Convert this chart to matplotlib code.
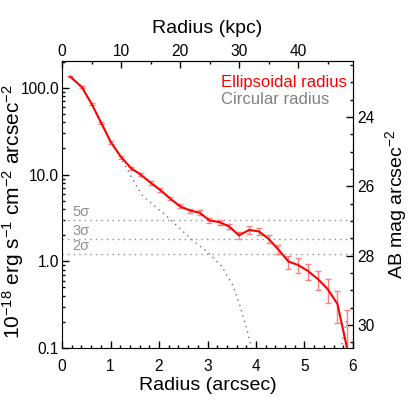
import numpy as np
import matplotlib
matplotlib.use("Agg")
import matplotlib.pyplot as plt
from matplotlib.ticker import FixedLocator, MultipleLocator, FuncFormatter, LogLocator, NullFormatter

plt.rcParams["font.family"] = ["Liberation Sans", "DejaVu Sans"]
plt.rcParams["mathtext.default"] = "regular"

# ellipsoidal radius profile (arcsec, 1e-18 erg/s/cm2/arcsec2)
ell_radius = [0.17, 0.41, 0.61, 0.81, 1.01, 1.22, 1.42, 1.62, 1.83, 2.03,
              2.23, 2.43, 2.64, 2.84, 3.04, 3.25, 3.45, 3.65, 3.86, 4.06,
              4.26, 4.46, 4.67, 4.87, 5.07, 5.28, 5.48, 5.68, 5.88]
ell_flux = [134.8, 101.9, 65.5, 39.3, 23.5, 15.9, 11.9, 10.0, 8.04, 6.61,
            5.29, 4.32, 3.85, 3.63, 2.96, 2.83, 2.51, 1.99, 2.30, 2.21,
            1.82, 1.37, 0.993, 0.906, 0.774, 0.621, 0.477, 0.321, 0.098]
ell_err = [2.7, 2.0, 1.6, 1.2, 0.7, 0.64, 0.48, 0.4, 0.36, 0.33,
           0.26, 0.22, 0.20, 0.24, 0.22, 0.18, 0.18, 0.175, 0.25, 0.18,
           0.20, 0.155, 0.173, 0.178, 0.168, 0.150, 0.143, 0.128, 0.177]

# circular radius profile
circ_radius = [0.17, 0.41, 0.61, 0.81, 1.01, 1.20, 1.44, 1.64, 1.85, 2.12,
               2.43, 2.71, 2.98, 3.29, 3.53, 3.67, 3.81, 3.88, 3.95, 5.67, 5.88]
circ_flux = [134.8, 101.0, 65.0, 39.0, 23.5, 16.2, 9.17, 5.89, 4.60, 3.47,
             2.39, 1.71, 1.31, 0.883, 0.520, 0.306, 0.165, 0.116, 0.08, 0.06, 0.22]

sigma = 0.6
sigma_levels = [5, 3, 2]
kpc_per_arcsec = 8.22
mag_zero = 28.16

fig = plt.figure(figsize=(4.15, 4.15), dpi=100)
ax = fig.add_axes([0.1494, 0.1614, 0.7012, 0.6916])
ax.set_yscale("log")
ax.set_xlim(0, 6)
ax.set_ylim(0.1, 204)

for n in sigma_levels:
    ax.plot([0, 6], [n * sigma, n * sigma], color="#909090", lw=1.0,
            linestyle=(0, (1, 3)))
    ax.text(0.22, n * sigma * 1.035, f"{n}σ", color="#909090", fontsize=10.5,
            va="bottom", ha="left")

ax.plot(circ_radius, circ_flux, color="#707070", lw=1.0, linestyle=(0, (1, 3)))
ax.errorbar(ell_radius, ell_flux, yerr=ell_err, fmt="none", ecolor="#ff8080",
            elinewidth=1.0, capsize=2.4, capthick=1.0)
ax.plot(ell_radius, ell_flux, color="red", lw=1.5)

ax.text(3.27, 115, "Ellipsoidal radius", color="red", fontsize=12, va="center")
ax.text(3.27, 74, "Circular radius", color="#808080", fontsize=12, va="center")

tick_kw = dict(direction="in", labelsize=11.2, width=1.0, color="black")
ax.xaxis.set_major_locator(MultipleLocator(1))
ax.xaxis.set_minor_locator(MultipleLocator(0.2))
ax.yaxis.set_major_locator(FixedLocator([0.1, 1, 10, 100]))
ax.yaxis.set_minor_locator(LogLocator(base=10, subs=np.arange(2, 10)))
ax.yaxis.set_minor_formatter(NullFormatter())
ax.yaxis.set_major_formatter(FuncFormatter(lambda v, p: {0.1: "0.1", 1: "1.0", 10: "10.0", 100: "100.0"}.get(round(v, 1), "")))
ax.tick_params(which="major", length=5, **tick_kw)
ax.tick_params(which="minor", length=2.5, direction="in", width=1.0)
ax.tick_params(axis="x", pad=8)
ax.tick_params(axis="y", pad=2)

ax.set_xlabel("Radius (arcsec)", fontsize=14, labelpad=2)
ax.set_ylabel("10$^{-18}$ erg s$^{-1}$ cm$^{-2}$ arcsec$^{-2}$", fontsize=15)
ax.yaxis.set_label_coords(-0.122, 0.475)

top = ax.secondary_xaxis("top", functions=(lambda r: r * kpc_per_arcsec,
                                            lambda k: k / kpc_per_arcsec))
top.xaxis.set_major_locator(FixedLocator([0, 10, 20, 30, 40]))
top.xaxis.set_minor_locator(MultipleLocator(5))
top.xaxis.set_minor_formatter(NullFormatter())
top.tick_params(which="major", length=5, pad=1.5, **tick_kw)
top.tick_params(which="minor", length=2.5, direction="in", width=1.0)
top.set_xlabel("Radius (kpc)", fontsize=14, labelpad=8)


def flux_to_mag(f):
    return mag_zero - 2.5 * np.log10(np.clip(f, 1e-10, None))


def mag_to_flux(m):
    return 10 ** ((mag_zero - m) / 2.5)


right = ax.secondary_yaxis("right", functions=(flux_to_mag, mag_to_flux))
right.yaxis.set_major_locator(FixedLocator([24, 26, 28, 30]))
right.yaxis.set_minor_locator(MultipleLocator(0.5))
right.yaxis.set_major_formatter(FuncFormatter(lambda v, p: f"{v:.0f}"))
right.yaxis.set_minor_formatter(NullFormatter())
right.tick_params(which="major", length=5, pad=3, **tick_kw)
right.tick_params(which="minor", length=2.5, direction="in", width=1.0)
right.set_ylabel("AB mag arcsec$^{-2}$", fontsize=14, labelpad=6)

fig.savefig("out.png", dpi=100)
